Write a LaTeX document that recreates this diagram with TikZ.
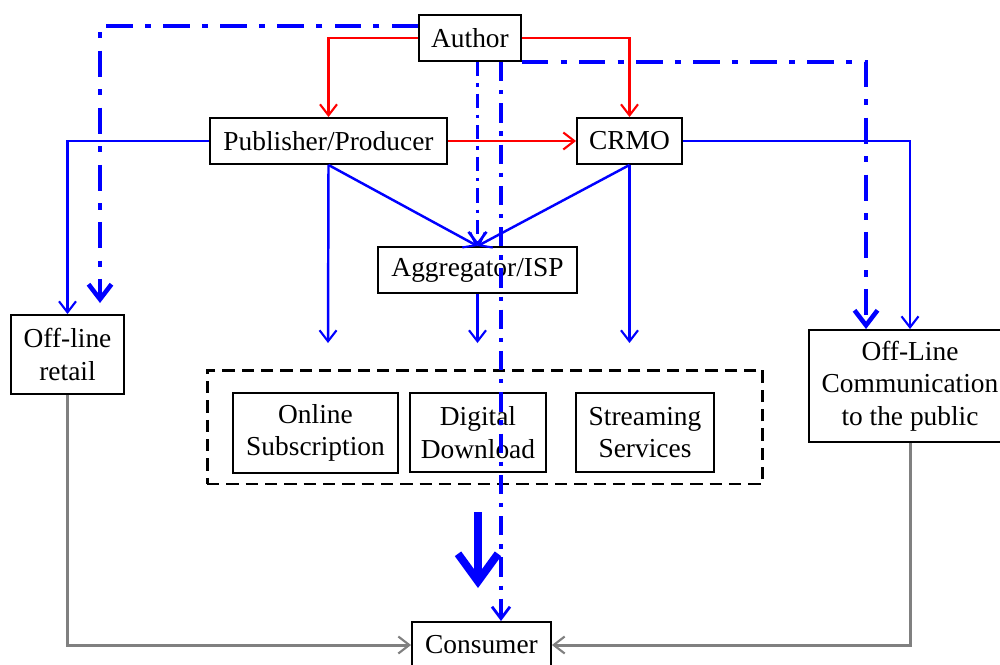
\documentclass[tikz,border=0pt]{standalone}
\usepackage{fontspec}
\setmainfont{Liberation Serif}
\usetikzlibrary{arrows.meta}
\begin{document}
\begin{tikzpicture}[x=0.02cm,y=-0.02cm,
 box/.style={draw, line width=1.1pt, align=center, inner sep=0pt, font=\fontsize{15.6}{18.6}\selectfont},
 arrowv/.style={-{Straight Barb[length=2.2mm,width=3.4mm,line width=1.2pt]}},
 redline/.style={red, line width=1.2pt, arrowv},
 blueline/.style={blue, line width=1.4pt, arrowv},
 grayline/.style={gray, line width=1.7pt, arrowv},
 bigdd/.style={blue, line width=2.8pt, dash pattern=on 15pt off 7pt on 3.5pt off 7pt, -{Straight Barb[length=3mm,width=4.6mm,line width=2.6pt]}},
 middd/.style={blue, line width=2.2pt, dash pattern=on 11pt off 5pt on 2.5pt off 5pt, -{Straight Barb[length=2.4mm,width=3.6mm,line width=1.6pt]}},
 thindd/.style={blue, line width=1.7pt, dash pattern=on 8pt off 4pt on 2pt off 4pt, -{Straight Barb[length=2.4mm,width=3.6mm,line width=1.5pt]}},
 group/.style={draw, line width=1.7pt, dash pattern=on 7pt off 4pt}
]
\useasboundingbox (0,0) rectangle (1000,664);

\node[box, minimum width=2.04cm, minimum height=0.92cm] (author) at (470,38) {Author};
\node[box, minimum width=4.74cm, minimum height=0.92cm] (pub) at (328.5,141) {Publisher/Producer};
\node[box, minimum width=2.10cm, minimum height=0.92cm] (crmo) at (629.5,141) {CRMO};
\node[box, minimum width=3.98cm, minimum height=0.92cm] (agg) at (477.5,270) {Aggregator/ISP};
\node[box, minimum width=2.26cm, minimum height=1.58cm] (retail) at (67.5,354.5) {Off-line\\retail};
\node[box, minimum width=4.04cm, minimum height=2.24cm] (comm) at (910,386) {Off-Line\\Communication\\to the public};
\node[group, minimum width=11.12cm, minimum height=2.28cm] (grp) at (485,427) {};
\node[box, minimum width=3.30cm, minimum height=1.60cm] (online) at (315.5,433) {Online\\Subscription};
\node[box, minimum width=2.72cm, minimum height=1.58cm] (digital) at (478,432.5) {Digital\\Download};
\node[box, minimum width=2.76cm, minimum height=1.58cm] (stream) at (645,432.5) {Streaming\\Services};
\node[box, minimum width=2.78cm, minimum height=0.92cm] (cons) at (481.5,645) {Consumer};

\coordinate (a1) at (328,343);
\coordinate (a2) at (477.5,343);
\coordinate (a3) at (629.5,343);
\coordinate (dl) at (100,303);
\coordinate (big1) at (478,512);
\coordinate (big2) at (478,588);

% red
\draw[redline] (author.west) -| (pub.north);
\draw[redline] (author.east) -| (crmo.north);
\draw[redline] (pub.east) -- (crmo.west);

% blue solid
\draw[blueline] (pub.west) -| (retail.north);
\draw[blueline] (crmo.east) -| (comm.north);
\draw[blueline] (pub.south) -- (agg.north);
\draw[blueline] (crmo.south) -- (agg.north);
\draw[blueline] (pub.south) -- (a1);
\draw[blueline] (agg.south) -- (a2);
\draw[blueline] (crmo.south) -- (a3);

% dash-dot
\draw[bigdd] ([yshift=0.24cm]author.west) -| (dl);
\draw[bigdd] (author.south east) -| ([xshift=-0.88cm]comm.north);
\draw[thindd] (author.south -| agg.north) -- (agg.north);
\draw[middd] ([xshift=0.62cm]author.south) coordinate (t) -- (t |- cons.north);

% big arrow
\draw[blue, line width=4.5pt, -{Straight Barb[length=5.5mm,width=8mm,line width=4.5pt]}] (big1) -- (big2);

% gray
\draw[grayline] (retail.south) |- (cons.west);
\draw[grayline] (comm.south) |- (cons.east);
\end{tikzpicture}
\end{document}
